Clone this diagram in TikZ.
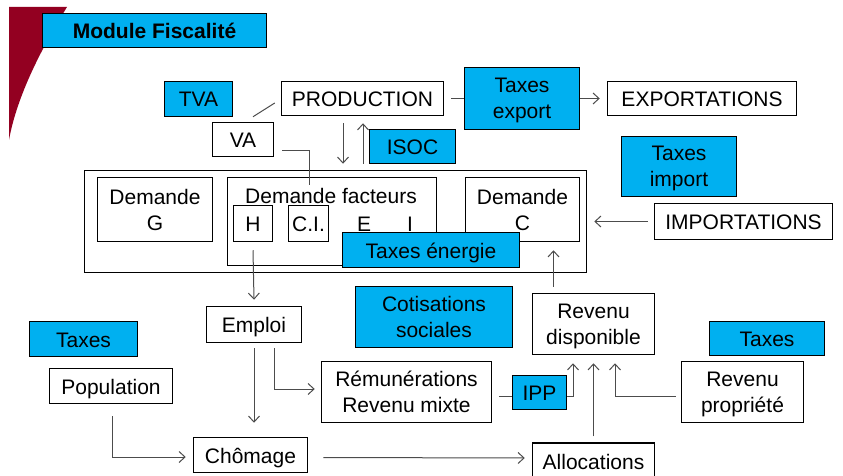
\documentclass[tikz,border=0pt]{standalone}
\usepackage{fontspec}
\setmainfont{Liberation Sans}
\usetikzlibrary{arrows.meta,positioning}
\definecolor{taxblue}{RGB}{0,176,240}
\definecolor{slidered}{RGB}{147,0,33}

\begin{document}
\begin{tikzpicture}[x=1pt,y=-1pt,
        every node/.style={font=\fontsize{21}{26}\selectfont},
        box/.style={draw,line width=1.5pt,fill=white,align=center,inner sep=0pt},
        one/.style={box,text height=16pt,text depth=0pt},
        tax/.style={box,fill=taxblue},
        taxone/.style={one,fill=taxblue},
        txt/.style={inner sep=0pt},
        link/.style={draw=black!70,line width=1pt},
        flow/.style={link,-{Straight Barb[length=6pt,width=11pt]}}]
            \path[use as bounding box,clip] (0,0) rectangle (843,476);
            \fill[slidered] (9,7) -- (67,7) .. controls (48,38) and (18,90) .. (9,140) -- cycle;

            % bloc demande
            \node   [box,minimum width=502,minimum height=102]    (big)     at (335.5,221.5) {};
            \node   [box,minimum width=115,minimum height=64]     (demG)    at (155,209.5)   {Demande\\G};
            \node   [box,minimum width=209,minimum height=88]     (demF)    at (332,221.5)   {};
            \node   [txt]                                         (demFt)   at (331,196)     {Demande facteurs};
            \node   [box,minimum width=114,minimum height=64]     (demC)    at (522.5,209.5) {Demande\\C};
            \node   [one,minimum width=39,minimum height=36]      (H)       at (253,223.5)   {H};
            \node   [one,minimum width=40,minimum height=36]      (CI)      at (308.5,223.5) {C.I.};
            \node   [txt]                                         (E)       at (364,224)     {E};
            \node   [txt]                                         (I)       at (410,224)     {I};

            % haut
            \node   [one,minimum width=162,minimum height=34]     (prod)    at (362.5,98.5)  {PRODUCTION};
            \node   [one,minimum width=61,minimum height=34]      (va)      at (243,139.5)   {VA};
            \node   [one,minimum width=189,minimum height=34]     (export)  at (702,98.5)    {EXPORTATIONS};
            \node   [one,minimum width=178,minimum height=36]     (import)  at (743.5,221.5) {IMPORTATIONS};

            % bas
            \node   [one,minimum width=95,minimum height=36]      (emploi)  at (254,324.5)   {Emploi};
            \node   [one,minimum width=123,minimum height=35]     (pop)     at (111,386)     {Population};
            \node   [one,minimum width=114,minimum height=35]     (chom)    at (250.5,455)   {Chômage};
            \node   [box,minimum width=170,minimum height=61]     (remu)    at (406.5,392)   {Rémunérations\\Revenu mixte};
            \node   [box,minimum width=122,minimum height=61]     (revdisp) at (593.5,324)   {Revenu\\\smash{disponible}};
            \node   [box,minimum width=122,minimum height=61]     (revprop) at (742.5,392)   {Revenu\\\smash{propriété}};
            \node   [one,minimum width=122,minimum height=37]     (alloc)   at (593.5,461.5) {Allocations};

            \path[link] ([xshift=10pt,yshift=5pt]va.north) -- ([xshift=-6pt,yshift=-4.5pt]prod.west);
            \path[link] ([xshift=8pt,yshift=-10.5pt]va.east) -| ([xshift=-23pt,yshift=-8pt]demF.north);
            \path[flow,shorten <=7pt,shorten >=7pt] (prod) -- (export);
            \path[flow] ([xshift=-19.5pt,yshift=-7pt]prod.south) -- ([xshift=7.5pt,yshift=6pt]big.north);
            \path[flow] ([xshift=27.5pt,yshift=6pt]big.north) -- ([xshift=0.5pt,yshift=-7pt]prod.south);
            \path[flow,shorten <=6pt,shorten >=7pt] (import) -- (big);
            \path[flow] ([yshift=-8pt]H.south) -- ([yshift=6pt]emploi.north);
            \path[flow] ([xshift=-40pt,yshift=6pt]revdisp.north) -- ([xshift=31pt,yshift=-8pt]demC.south);
            \path[flow] ([yshift=-5pt]emploi.south) -- ([xshift=3.5pt,yshift=14pt]chom.north);
            \path[flow] ([xshift=20pt,yshift=-5pt]emploi.south) |- ([xshift=-6pt,yshift=3pt]remu.west);
            \path[flow] ([xshift=1pt,yshift=-12pt]pop.south) |- ([xshift=-7pt,yshift=-2pt]chom.west);
            \path[flow] ([xshift=15pt,yshift=-2.5pt]chom.east) -- ([xshift=-7pt,yshift=3.5pt]alloc.west);
            \path[flow] ([xshift=7pt,yshift=-4pt]remu.east) -| ([xshift=-20.5pt,yshift=-8pt]revdisp.south);
            \path[flow] ([yshift=6pt]alloc.north) -- ([yshift=-8pt]revdisp.south);
            \path[flow] ([xshift=-5pt,yshift=-4pt]revprop.west) -| ([xshift=21.5pt,yshift=-8pt]revdisp.south);

            % taxes
            \node   [taxone,minimum width=224,minimum height=34,font=\fontsize{21}{26}\bfseries\selectfont] (titre) at (154.5,30.5) {Module Fiscalité};
            \node   [taxone,minimum width=68,minimum height=35]   (tva)     at (198.5,99)    {TVA};
            \node   [tax,minimum width=115,minimum height=62]     (taxexp)  at (522,98.5)    {Taxes\\\smash{export}};
            \node   [taxone,minimum width=86,minimum height=34]   (isoc)    at (412.5,146.5) {ISOC};
            \node   [tax,minimum width=115,minimum height=60]     (taximp)  at (679,166.5)   {Taxes\\\smash{import}};
            \node   [taxone,minimum width=177,minimum height=35]  (taxen)   at (431,250)     {Taxes énergie};
            \node   [tax,minimum width=157,minimum height=61]     (cotis)   at (434,317)     {Cotisations\\sociales};
            \node   [taxone,minimum width=108,minimum height=35]  (taxesL)  at (83.5,339)    {Taxes};
            \node   [taxone,minimum width=115,minimum height=34]  (taxesR)  at (767,338.5)   {Taxes};
            \node   [taxone,minimum width=54,minimum height=34]   (ipp)     at (539.5,392.5) {IPP};
\end{tikzpicture}
\end{document}
